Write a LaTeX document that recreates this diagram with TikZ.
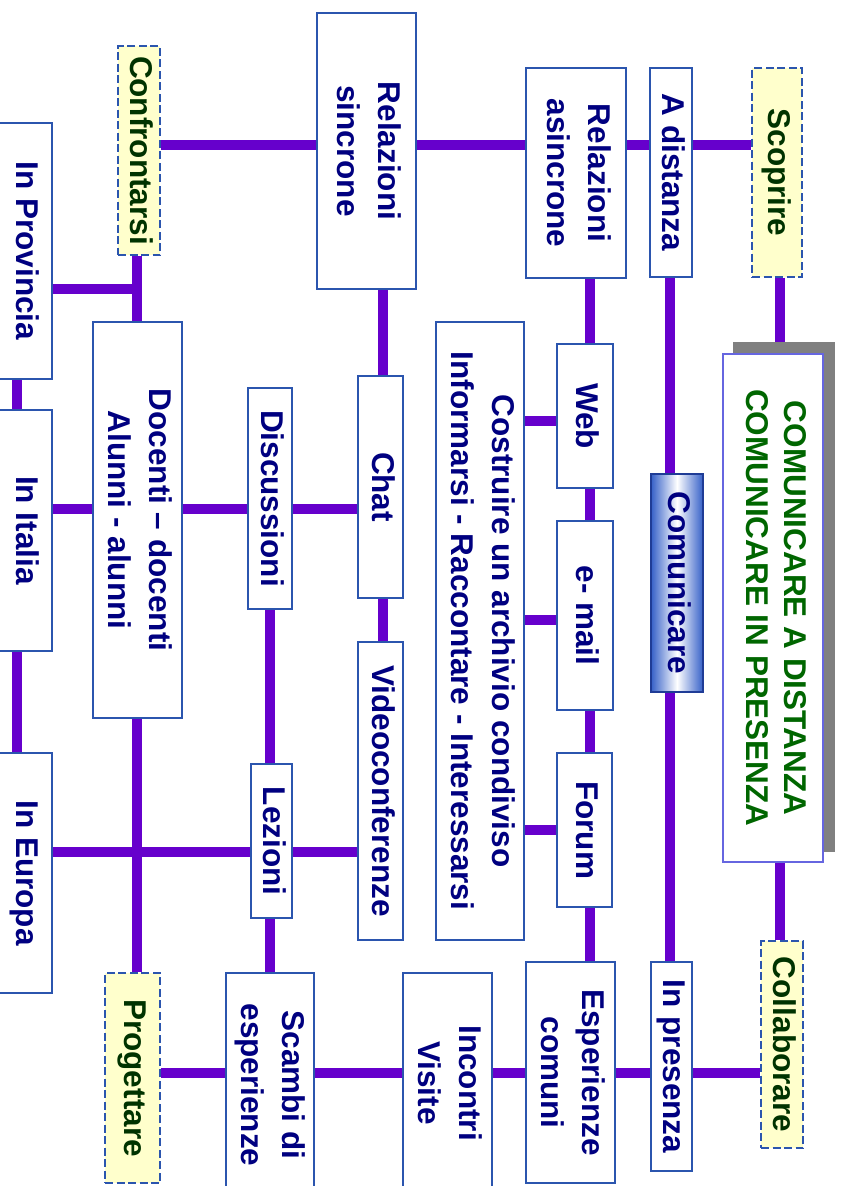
\documentclass[tikz,border=0pt]{standalone}
\usepackage{fontspec}
\setmainfont{Liberation Sans}
\usepackage{graphicx}
\usetikzlibrary{backgrounds}
\definecolor{navy}{HTML}{000080}
\definecolor{dgreen}{HTML}{003300}
\definecolor{tgreen}{HTML}{006600}
\definecolor{lnk}{HTML}{6600CC}
\definecolor{bord}{HTML}{2B55AE}
\definecolor{tbord}{HTML}{6666E0}
\definecolor{yel}{HTML}{FFFFCC}
\definecolor{cblue}{HTML}{3560C8}
\definecolor{cbord}{HTML}{1F3C96}
\definecolor{shad}{HTML}{808080}
\newcommand{\vt}[1]{\rotatebox{-90}{\begin{tabular}{@{}c@{}}#1\end{tabular}}}
\begin{document}
\begin{tikzpicture}[x=1pt,y=-1pt,
  box/.style={draw=bord, line width=1.4pt, fill=white, inner sep=0pt, text=navy,
    font=\bfseries\fontsize{31.5}{41}\selectfont},
  ybox/.style={box, fill=yel, dash pattern=on 8pt off 3.5pt, text=dgreen},
  cbox/.style={draw=cbord, line width=1.4pt, inner sep=0pt, text=navy,
    left color=cblue, right color=cblue, middle color=white,
    font=\bfseries\fontsize{31.5}{41}\selectfont},
  tbox/.style={draw=tbord, line width=1.2pt, fill=white, inner sep=0pt, text=tgreen,
    font=\bfseries\fontsize{31.5}{38}\selectfont},
  lk/.style={draw=lnk, line width=10pt},
]
\useasboundingbox (0,0) rectangle (843,1186);

% ---- nodes ----
\node[box, minimum width=99pt, minimum height=276pt] (relsin) at (366.5,151) {\vt{Relazioni\\sincrone}};
\node[box, minimum width=100pt, minimum height=210pt] (relasin) at (576,173) {\vt{Relazioni\\asincrone}};
\node[box, minimum width=42pt, minimum height=209pt] (adist) at (671,172.5) {\vt{A distanza}};
\node[ybox, minimum width=50pt, minimum height=209pt] (scop) at (777,172.5) {\vt{Scoprire}};
\node[ybox, minimum width=42pt, minimum height=209pt] (conf) at (139,150.5) {\vt{Confrontarsi}};

\node[box, minimum width=54pt, minimum height=256pt] (prov) at (25,251) {\vt{In Provincia}};
\node[box, minimum width=54pt, minimum height=241pt] (ital) at (25,530.5) {\vt{In Italia}};
\node[box, minimum width=54pt, minimum height=240pt] (europa) at (25,873) {\vt{In Europa}};

\node[box, minimum width=89pt, minimum height=396pt] (doc) at (137.5,520) {\vt{Docenti – docenti\\Alunni - alunni}};
\node[box, minimum width=44pt, minimum height=221pt] (disc) at (270,498.5) {\vt{Discussioni}};
\node[box, minimum width=45pt, minimum height=222pt] (chat) at (380.5,487) {\vt{Chat}};
\node[box, minimum width=41pt, minimum height=154pt] (lez) at (271.5,841) {\vt{Lezioni}};
\node[box, minimum width=45pt, minimum height=298pt] (video) at (380.5,791) {\vt{Videoconferenze}};

\node[box, minimum width=88pt, minimum height=618pt] (costr) at (480,631) {\vt{Costruire un archivio condiviso\\Informarsi - Raccontare - Interessarsi}};
\node[box, minimum width=56pt, minimum height=144pt] (web) at (585,416) {\vt{Web}};
\node[box, minimum width=56pt, minimum height=189pt] (email) at (585,615.5) {\vt{e- mail}};
\node[box, minimum width=55pt, minimum height=154pt] (forum) at (584.5,830) {\vt{Forum}};

\node[cbox, minimum width=52pt, minimum height=218pt] (comm) at (677,583) {\vt{Comunicare}};
\node[tbox, minimum width=100pt, minimum height=508pt] (title) at (773,608) {\vt{COMUNICARE A DISTANZA\\COMUNICARE IN PRESENZA}};

\node[ybox, minimum width=55pt, minimum height=210pt] (prog) at (132.5,1078) {\vt{Progettare}};
\node[box, minimum width=88pt, minimum height=224pt] (scambi) at (270,1085) {\vt{Scambi di\\esperienze}};
\node[box, minimum width=89pt, minimum height=220pt] (incontri) at (447.5,1083) {\vt{Incontri\\Visite}};
\node[box, minimum width=89pt, minimum height=221pt] (esper) at (570.5,1072.5) {\vt{Esperienze\\comuni}};
\node[box, minimum width=41pt, minimum height=209pt] (inpres) at (671.5,1066.5) {\vt{In presenza}};
\node[ybox, minimum width=42pt, minimum height=207pt] (collab) at (782,1044.5) {\vt{Collaborare}};

% ---- helper coordinates ----
\coordinate (r145) at (0,145);
\coordinate (r421) at (0,421);
\coordinate (r509) at (0,509);
\coordinate (r620) at (0,620);
\coordinate (r830) at (0,830);
\coordinate (r852) at (0,852);
\coordinate (r1073) at (0,1073);
\coordinate (c17) at (17,0);
\coordinate (c137) at (137,0);
\coordinate (c270) at (270,0);
\coordinate (c383) at (383,0);
\coordinate (c590) at (590,0);
\coordinate (c670) at (670,0);
\coordinate (c780) at (780,0);
\coordinate (j1) at (137,289);

% ---- connectors ----
\begin{scope}[on background layer]
\draw[lk] (conf.east |- r145) -- (relsin.west |- r145);
\draw[lk] (relsin.east |- r145) -- (relasin.west |- r145);
\draw[lk] (relasin.east |- r145) -- (adist.west |- r145);
\draw[lk] (adist.east |- r145) -- (scop.west |- r145);

\draw[lk] (conf.south -| c137) -- (doc.north -| c137);
\draw[lk] (prov.east |- j1) -- (j1);
\draw[lk] (relsin.south -| c383) -- (chat.north -| c383);
\draw[lk] (chat.south -| c383) -- (video.north -| c383);

\draw[lk] (ital.east |- r509) -- (doc.west |- r509);
\draw[lk] (doc.east |- r509) -- (disc.west |- r509);
\draw[lk] (disc.east |- r509) -- (chat.west |- r509);

\draw[lk] (disc.south -| c270) -- (lez.north -| c270);
\draw[lk] (lez.south -| c270) -- (scambi.north -| c270);

\draw[lk] (europa.east |- r852) -- (lez.west |- r852);
\draw[lk] (lez.east |- r852) -- (video.west |- r852);

\draw[lk] (doc.south -| c137) -- (prog.north -| c137);

\draw[lk] (prog.east |- r1073) -- (scambi.west |- r1073);
\draw[lk] (scambi.east |- r1073) -- (incontri.west |- r1073);
\draw[lk] (incontri.east |- r1073) -- (esper.west |- r1073);
\draw[lk] (esper.east |- r1073) -- (inpres.west |- r1073);
\draw[lk] (inpres.east |- r1073) -- (collab.west |- r1073);

\draw[lk] (prov.south -| c17) -- (ital.north -| c17);
\draw[lk] (ital.south -| c17) -- (europa.north -| c17);

\draw[lk] (relasin.south -| c590) -- (web.north -| c590);
\draw[lk] (web.south -| c590) -- (email.north -| c590);
\draw[lk] (email.south -| c590) -- (forum.north -| c590);
\draw[lk] (forum.south -| c590) -- (esper.north -| c590);

\draw[lk] (costr.east |- r421) -- (web.west |- r421);
\draw[lk] (costr.east |- r620) -- (email.west |- r620);
\draw[lk] (costr.east |- r830) -- (forum.west |- r830);

\draw[lk] (adist.south -| c670) -- (comm.north -| c670);
\draw[lk] (comm.south -| c670) -- (inpres.north -| c670);

\draw[lk] (scop.south -| c780) -- (title.north -| c780);
\draw[lk] (title.south -| c780) -- (collab.north -| c780);

\fill[shad] ([xshift=11pt,yshift=11pt]title.south west) rectangle ([xshift=11pt,yshift=11pt]title.north east);
\end{scope}
\end{tikzpicture}
\end{document}
